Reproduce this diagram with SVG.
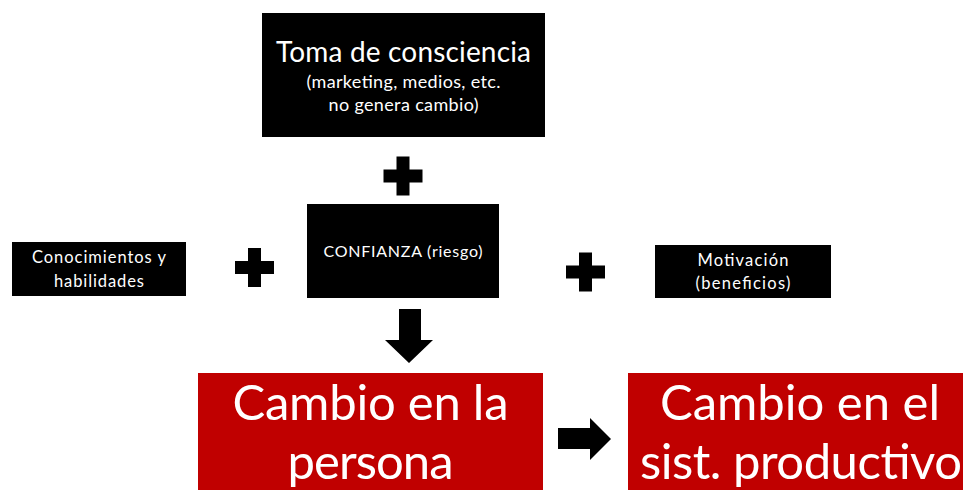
<svg xmlns="http://www.w3.org/2000/svg" width="963" height="490" viewBox="0 0 963 490">
<style>
.box{fill:#000}
.red{fill:#C00000}
.t{fill:#fff;font-family:Lato,"Open Sans",sans-serif;text-anchor:middle}
.sym{fill:#000}
</style>
<defs>
<path id="plus" d="M-6.5,-19.5 H6.5 V-6.5 H19.5 V6.5 H6.5 V19.5 H-6.5 V6.5 H-19.5 V-6.5 H-6.5 Z"/>
</defs>
<rect width="963" height="490" fill="#fff"/>
<g id="toma">
<rect class="box" x="262" y="13" width="283" height="124"/>
<text class="t" x="403.5" y="62" font-size="28" textLength="255">Toma de consciencia</text>
<text class="t" x="403.5" y="88" font-size="18" textLength="194">(marketing, medios, etc.</text>
<text class="t" x="403.5" y="111" font-size="18" textLength="150">no genera cambio)</text>
</g>
<g id="confianza">
<rect class="box" x="307" y="204" width="192" height="94"/>
<text class="t" x="403" y="257" font-size="16" textLength="159">CONFIANZA (riesgo)</text>
</g>
<g id="conocimientos">
<rect class="box" x="12" y="242" width="174" height="54"/>
<text class="t" x="99" y="263" font-size="16.5" textLength="134">Conocimientos y</text>
<text class="t" x="99" y="287" font-size="16.5" textLength="90">habilidades</text>
</g>
<g id="motivacion">
<rect class="box" x="655" y="245" width="176" height="53"/>
<text class="t" x="743" y="266" font-size="16.5" textLength="91">Motivación</text>
<text class="t" x="743" y="289" font-size="16.5" textLength="95">(beneficios)</text>
</g>
<g id="persona">
<rect class="red" x="198" y="373" width="345" height="117"/>
<text class="t" x="370.5" y="420" font-size="49" textLength="276">Cambio en la</text>
<text class="t" x="370.5" y="479" font-size="49" textLength="166">persona</text>
</g>
<g id="sistema">
<rect class="red" x="628" y="373" width="335" height="117"/>
<text class="t" x="800" y="420" font-size="49" textLength="280">Cambio en el</text>
<text class="t" x="801" y="479" font-size="49" textLength="322">sist. productivo</text>
</g>
<g id="connectors">
<use href="#plus" class="sym" transform="translate(403,176)"/>
<use href="#plus" class="sym" transform="translate(254.5,267.5)"/>
<use href="#plus" class="sym" transform="translate(585.5,272)"/>
<polygon class="sym" points="399,309 421,309 421,340 433,340 409,363 385,340 399,340"/>
<polygon class="sym" points="558,428 590,428 590,418 611,439 590,460 590,449 558,449"/>
</g>
</svg>
